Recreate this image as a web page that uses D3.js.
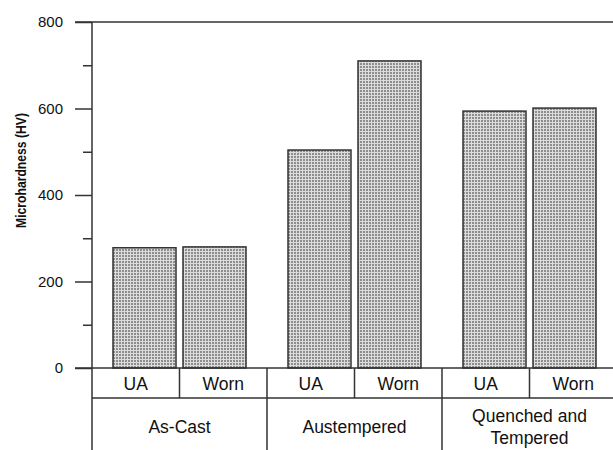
<!DOCTYPE html>
<html>
<head>
<meta charset="utf-8">
<script src="https://cdn.jsdelivr.net/npm/d3@7/dist/d3.min.js"></script>
<style>
  html, body { margin: 0; padding: 0; background: #fff; }
  svg { display: block; font-family: "Liberation Sans", Arial, sans-serif; }
</style>
</head>
<body>
<svg id="chart" width="613" height="450"></svg>
<script>
// Heat-treatment groups and sample conditions
const groups = ["As-Cast", "Austempered", "Quenched and Tempered"];
const groupLines = [["As-Cast"], ["Austempered"], ["Quenched and", "Tempered"]];
const conditions = ["UA", "Worn"];
// Microhardness (HV) per group: [UA, Worn]
const uaValues = [278, 504, 594];
const wornValues = [280, 710, 601];
const yTicks = [0, 200, 400, 600, 800];
const yMinorTicks = [100, 300, 500, 700];

const svg = d3.select("#chart");
const ink = "#333";

const x0 = d3.scaleBand().domain(groups).range([92, 617]);
const x1 = d3.scaleBand().domain(conditions).range([0, x0.bandwidth()])
  .paddingInner(0.1).paddingOuter(0.3);
const xCell = d3.scaleBand().domain(conditions).range([0, x0.bandwidth()]);
const y = d3.scaleLinear().domain([0, 800]).range([368, 22]);

// Fine grid fill used for the bars
const defs = svg.append("defs");
const pat = defs.append("pattern").attr("id", "grid")
  .attr("width", 3).attr("height", 3).attr("patternUnits", "userSpaceOnUse");
pat.append("rect").attr("width", 3).attr("height", 3).attr("fill", "#dcdcdc");
pat.append("rect").attr("width", 2).attr("height", 2).attr("fill", "#8e8e8e");

// Bars
const rows = groups.map((g, i) => ({ group: g, values: [uaValues[i], wornValues[i]] }));
const gGroups = svg.append("g").selectAll("g").data(rows).join("g")
  .attr("transform", d => `translate(${x0(d.group)},0)`);
gGroups.selectAll("rect")
  .data(d => d.values.map((v, k) => ({ cond: conditions[k], value: v })))
  .join("rect")
  .attr("x", d => x1(d.cond))
  .attr("width", x1.bandwidth())
  .attr("y", d => y(d.value))
  .attr("height", d => y(0) - y(d.value))
  .attr("fill", "url(#grid)")
  .attr("stroke", ink)
  .attr("stroke-width", 1.5);

// Y axis
const yAxis = d3.axisLeft(y).tickValues(yTicks).tickSize(17).tickPadding(12);
const ga = svg.append("g").attr("transform", "translate(92,0)").call(yAxis);
ga.select(".domain").remove();
ga.selectAll(".tick line").attr("stroke", ink).attr("stroke-width", 1.5);
ga.selectAll(".tick text").attr("font-size", 15).attr("fill", "#111")
  .attr("font-family", "Liberation Sans, Arial, sans-serif");
const gm = svg.append("g").attr("transform", "translate(92,0)")
  .call(d3.axisLeft(y).tickValues(yMinorTicks).tickSize(9).tickFormat(""));
gm.select(".domain").remove();
gm.selectAll(".tick line").attr("stroke", ink).attr("stroke-width", 1.5);

// Frame lines: axis spine, top line, baseline and category table
const lines = svg.append("g").attr("stroke", ink).attr("stroke-width", 1.5);
lines.append("line").attr("x1", 92).attr("x2", 92).attr("y1", y(800)).attr("y2", 450);
lines.append("line").attr("x1", 75).attr("x2", 613).attr("y1", y(800)).attr("y2", y(800));
lines.append("line").attr("x1", 75).attr("x2", 613).attr("y1", y(0)).attr("y2", y(0));
lines.append("line").attr("x1", 92).attr("x2", 613).attr("y1", 398).attr("y2", 398);
groups.forEach((g, i) => {
  if (i > 0) {
    lines.append("line").attr("x1", x0(g)).attr("x2", x0(g)).attr("y1", y(0)).attr("y2", 450);
  }
  const xm = x0(g) + xCell("Worn");
  lines.append("line").attr("x1", xm).attr("x2", xm).attr("y1", y(0)).attr("y2", 398);
});

// Table labels
const labels = svg.append("g").attr("fill", "#111").attr("font-size", 17.5)
  .attr("text-anchor", "middle");
groups.forEach((g, i) => {
  conditions.forEach(c => {
    labels.append("text")
      .attr("x", x0(g) + xCell(c) + xCell.bandwidth() / 2)
      .attr("y", 389.5)
      .text(c);
  });
  const ls = groupLines[i];
  ls.forEach((t, k) => {
    const yy = ls.length === 1 ? 433 : 421.5 + k * 22.5;
    labels.append("text")
      .attr("x", x0(g) + x0.bandwidth() / 2)
      .attr("y", yy)
      .text(t);
  });
});

// Y axis title
svg.append("text")
  .attr("transform", "translate(25.5,170.5) rotate(-90)")
  .attr("text-anchor", "middle")
  .attr("font-size", 15.5)
  .attr("font-weight", "bold")
  .attr("fill", "#111")
  .attr("textLength", 115)
  .attr("lengthAdjust", "spacingAndGlyphs")
  .text("Microhardness (HV)");
</script>
</body>
</html>
